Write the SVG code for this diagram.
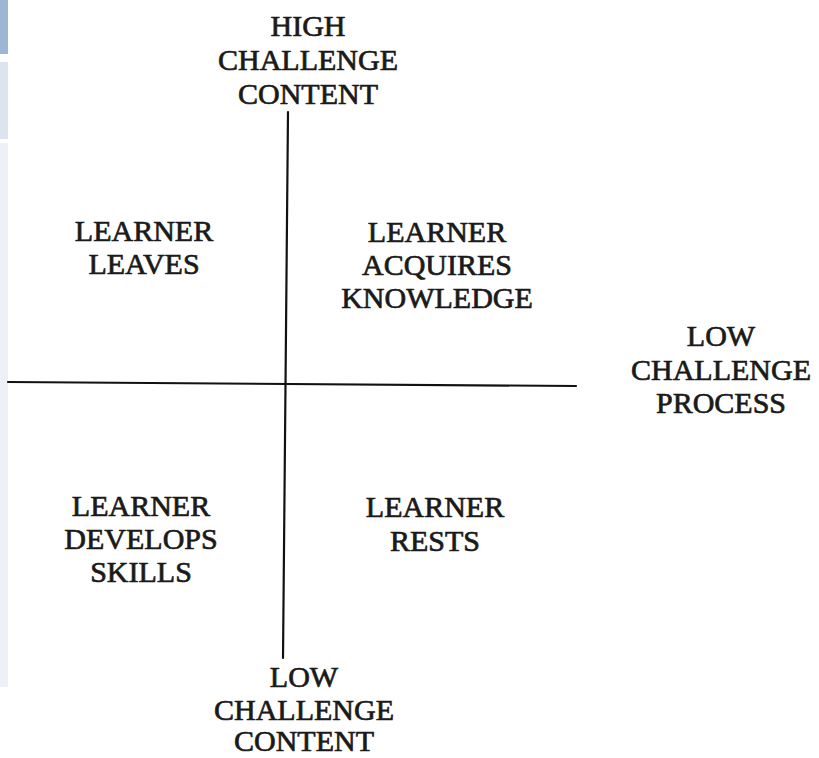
<svg xmlns="http://www.w3.org/2000/svg" width="819" height="758" viewBox="0 0 819 758">
<style>
  text { font-family: "Liberation Serif", "Times New Roman", serif; font-size: 30px; fill: #1a1a1a; stroke: #1a1a1a; stroke-width: 0.7; text-anchor: middle; }
  .axis { stroke: #111; stroke-width: 2.2; fill: none; stroke-linecap: round; }
</style>
<rect width="819" height="758" fill="#ffffff"/>
<g id="side-strip">
  <rect x="0" y="0" width="8" height="54" fill="#9db6d6"/>
  <rect x="0" y="62" width="8" height="77" fill="#dce4ef"/>
  <rect x="0" y="143" width="8" height="544" fill="#eef0f7"/>
</g>
<g id="connectors">
  <path class="axis" d="M288 112 L283 658"/>
  <path class="axis" d="M8 382 L576 386"/>
</g>
<g id="high-challenge-content">
  <text x="308" y="36">HIGH</text>
  <text x="308" y="70">CHALLENGE</text>
  <text x="308" y="104">CONTENT</text>
</g>
<g id="learner-leaves">
  <text x="144" y="241">LEARNER</text>
  <text x="144" y="274">LEAVES</text>
</g>
<g id="learner-acquires-knowledge">
  <text x="437" y="242">LEARNER</text>
  <text x="437" y="275">ACQUIRES</text>
  <text x="437" y="308">KNOWLEDGE</text>
</g>
<g id="low-challenge-process">
  <text x="721" y="346">LOW</text>
  <text x="721" y="380">CHALLENGE</text>
  <text x="721" y="413">PROCESS</text>
</g>
<g id="learner-develops-skills">
  <text x="141" y="516">LEARNER</text>
  <text x="141" y="549">DEVELOPS</text>
  <text x="141" y="582">SKILLS</text>
</g>
<g id="learner-rests">
  <text x="435" y="517">LEARNER</text>
  <text x="435" y="551">RESTS</text>
</g>
<g id="low-challenge-content">
  <text x="304" y="687">LOW</text>
  <text x="304" y="720">CHALLENGE</text>
  <text x="304" y="751">CONTENT</text>
</g>
</svg>
